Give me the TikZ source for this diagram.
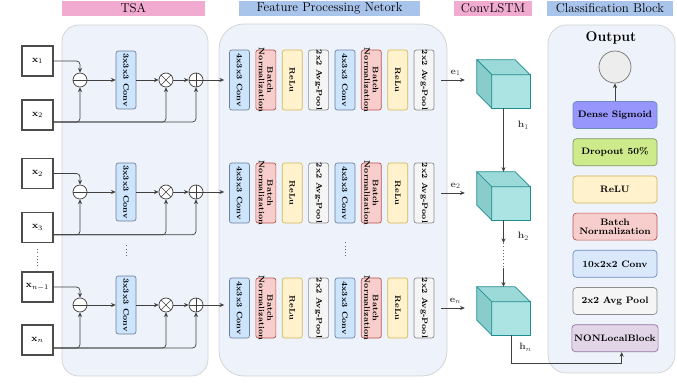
\documentclass[tikz,border=0pt]{standalone}
\usepackage{amsmath}
\usepackage{tikz}
\usetikzlibrary{positioning, arrows.meta, backgrounds, calc}
\definecolor{Cpk}{RGB}{241,171,208}
\definecolor{Cbl}{RGB}{169,196,235}
\definecolor{Cpnl}{RGB}{238,242,250}
\definecolor{Ccv}{RGB}{204,228,252}
\definecolor{Ccvd}{RGB}{110,128,156}
\definecolor{Cbn}{RGB}{248,206,204}
\definecolor{Cbnd}{RGB}{184,84,80}
\definecolor{Crl}{RGB}{255,242,204}
\definecolor{Crld}{RGB}{214,182,86}
\definecolor{Cap}{RGB}{245,245,245}
\definecolor{Capd}{RGB}{140,140,140}
\definecolor{Cds}{RGB}{150,150,252}
\definecolor{Cdsd}{RGB}{108,142,191}
\definecolor{Cdo}{RGB}{205,235,139}
\definecolor{Cdod}{RGB}{130,150,100}
\definecolor{Ccb}{RGB}{218,232,252}
\definecolor{Ccbd}{RGB}{108,142,191}
\definecolor{Cnl}{RGB}{225,213,231}
\definecolor{Cnld}{RGB}{150,115,166}
\definecolor{Cqf}{RGB}{172,228,228}
\definecolor{Cqt}{RGB}{156,218,218}
\definecolor{Cqs}{RGB}{136,204,204}
\definecolor{Cqd}{RGB}{30,140,145}
\tikzset{
  vt/.style={rotate=-90, anchor=center, align=center, inner sep=0pt,
    minimum width=0pt, minimum height=0pt, draw=none, fill=none,
    font=\fontsize{6.8}{7.2}\selectfont\bfseries},
  Vb/.style n args={3}{draw=#2, fill=#1, rounded corners=2pt,
    minimum width=0.6cm, minimum height=1.8cm, line width=0.6pt,
    inner sep=0pt, label={[vt]center:#3}},
  Hb/.style n args={2}{draw=#2, fill=#1, rounded corners=3pt,
    minimum width=2.52cm, minimum height=0.81cm, line width=0.6pt,
    align=center, inner sep=2pt, font=\footnotesize\bfseries},
  inp/.style={draw=black!70, line width=0.9pt, minimum width=0.93cm,
    minimum height=0.9cm, inner sep=0pt, font=\footnotesize},
  pnl/.style={draw=black!18, fill=Cpnl, line width=0.6pt, inner sep=0pt},
  bar/.style n args={1}{fill=#1, minimum height=0.45cm, inner sep=0pt,
    font=\fontsize{11}{13}\selectfont},
  opS/.style={circle, draw=black!75, fill=white, minimum size=0.42cm,
    inner sep=0pt, line width=0.6pt,
    path picture={\draw[black!75, line width=0.6pt]
      (path picture bounding box.west) -- (path picture bounding box.east);}},
  opM/.style={circle, draw=black!75, fill=white, minimum size=0.42cm,
    inner sep=0pt, line width=0.6pt,
    path picture={\draw[black!75, line width=0.6pt]
      (path picture bounding box.south west) -- (path picture bounding box.north east)
      (path picture bounding box.north west) -- (path picture bounding box.south east);}},
  opA/.style={circle, draw=black!75, fill=white, minimum size=0.42cm,
    inner sep=0pt, line width=0.6pt,
    path picture={\draw[black!75, line width=0.6pt]
      (path picture bounding box.west) -- (path picture bounding box.east)
      (path picture bounding box.north) -- (path picture bounding box.south);}},
  cubebb/.style={minimum width=1.59cm, minimum height=1.44cm, inner sep=0pt},
  cubeln/.style={draw=Cqd, line width=0.6pt, line join=round},
  a/.style={-{Stealth[length=4pt,width=3.5pt]}, line width=0.6pt, color=black!75},
  dts/.style={dotted, line width=0.8pt, color=black!60},
  lbl/.style={font=\footnotesize}
}

\begin{document}
\begin{tikzpicture}
\useasboundingbox (0,0) rectangle (20.31,-11.52);

% ═══════════════════════════════════════════════════════════════
%  TITLE BARS
% ═══════════════════════════════════════════════════════════════
\node[bar={Cpk}, minimum width=4.29cm] (Ttsa) at (4.0, -0.255) {TSA};
\node[bar={Cbl}, minimum width=5.43cm] (Tfpn) at (9.885, -0.255) {Feature Processing Netork};
\node[bar={Cpk}, minimum width=2.34cm] (Tlstm) at (14.79, -0.255) {ConvLSTM};
\node[bar={Cbl}, minimum width=3.78cm] (Tcls) at (18.3, -0.255) {Classification Block};

% ═══════════════════════════════════════════════════════════════
%  TSA  inputs x=1.125 | minus x=2.4  conv x=3.78  mul x=4.98  add x=5.88
% ═══════════════════════════════════════════════════════════════
\node[inp] (X1)  at (1.125, -1.83)  {$\mathbf{x}_1$};
\node[inp] (X2)  at (1.125, -3.45)  {$\mathbf{x}_2$};
\node[inp] (X2b) at (1.125, -5.205) {$\mathbf{x}_2$};
\node[inp] (X3)  at (1.125, -6.825) {$\mathbf{x}_3$};
\node[inp] (Xm)  at (1.125, -8.61)  {$\mathbf{x}_{n-1}$};
\node[inp] (Xn)  at (1.125, -10.2)  {$\mathbf{x}_n$};

\node[opS] (S1) at (2.4, -2.4) {};
\node[Vb={Ccv}{Ccvd}{3x3x3 Conv}, minimum height=1.74cm] (K1) at (3.78, -2.4) {};
\node[opM] (M1) at (4.98, -2.4) {};
\node[opA] (A1) at (5.88, -2.4) {};

\node[opS] (S2) at (2.4, -5.76) {};
\node[Vb={Ccv}{Ccvd}{3x3x3 Conv}, minimum height=1.74cm] (K2) at (3.78, -5.76) {};
\node[opM] (M2) at (4.98, -5.76) {};
\node[opA] (A2) at (5.88, -5.76) {};

\node[opS] (S3) at (2.4, -9.15) {};
\node[Vb={Ccv}{Ccvd}{3x3x3 Conv}, minimum height=1.74cm] (K3) at (3.78, -9.15) {};
\node[opM] (M3) at (4.98, -9.15) {};
\node[opA] (A3) at (5.88, -9.15) {};

\draw[a, rounded corners=3pt] (X1.east) -| (S1.north);
\draw[a, rounded corners=3pt] ([yshift=-0.21cm]X2.east) -| (S1.south);
\draw[a, rounded corners=3pt] ([yshift=-0.21cm]X2.east) -| (M1.south);
\draw[a, rounded corners=3pt] ([yshift=-0.21cm]X2.east) -| (A1.south);
\draw[a] (S1) -- (K1);
\draw[a] (K1) -- (M1);
\draw[a] (M1) -- (A1);

\draw[a, rounded corners=3pt] (X2b.east) -| (S2.north);
\draw[a, rounded corners=3pt] ([yshift=-0.22cm]X3.east) -| (S2.south);
\draw[a, rounded corners=3pt] ([yshift=-0.22cm]X3.east) -| (M2.south);
\draw[a, rounded corners=3pt] ([yshift=-0.22cm]X3.east) -| (A2.south);
\draw[a] (S2) -- (K2);
\draw[a] (K2) -- (M2);
\draw[a] (M2) -- (A2);

\draw[a, rounded corners=3pt] (Xm.east) -| (S3.north);
\draw[a, rounded corners=3pt] ([yshift=-0.24cm]Xn.east) -| (S3.south);
\draw[a, rounded corners=3pt] ([yshift=-0.24cm]Xn.east) -| (M3.south);
\draw[a, rounded corners=3pt] ([yshift=-0.24cm]Xn.east) -| (A3.south);
\draw[a] (S3) -- (K3);
\draw[a] (K3) -- (M3);
\draw[a] (M3) -- (A3);

\draw[dts, shorten <=0.18cm, shorten >=0.18cm] (X3) -- (Xm);
\draw[dts, shorten <=0.72cm, shorten >=0.54cm] (K2) -- (K3);

% ═══════════════════════════════════════════════════════════════
%  FEATURE PROCESSING  rows y=-2.4 / -5.79 / -9.24
% ═══════════════════════════════════════════════════════════════
\node[Vb={Ccv}{Ccvd}{4x3x3 Conv}] (F1c1) at (7.185, -2.4) {};
\node[Vb={Cbn}{Cbnd}{Batch\\Normalization}, right=0.17cm of F1c1] (F1b1) {};
\node[Vb={Crl}{Crld}{ReLu}, right=0.17cm of F1b1] (F1r1) {};
\node[Vb={Cap}{Capd}{2x2 Avg-Pool}, right=0.17cm of F1r1] (F1p1) {};
\node[Vb={Ccv}{Ccvd}{4x3x3 Conv}, right=0.17cm of F1p1] (F1c2) {};
\node[Vb={Cbn}{Cbnd}{Batch\\Normalization}, right=0.17cm of F1c2] (F1b2) {};
\node[Vb={Crl}{Crld}{ReLu}, right=0.17cm of F1b2] (F1r2) {};
\node[Vb={Cap}{Capd}{2x2 Avg-Pool}, right=0.17cm of F1r2] (F1p2) {};

\node[Vb={Ccv}{Ccvd}{4x3x3 Conv}] (F2c1) at (7.185, -5.79) {};
\node[Vb={Cbn}{Cbnd}{Batch\\Normalization}, right=0.17cm of F2c1] (F2b1) {};
\node[Vb={Crl}{Crld}{ReLu}, right=0.17cm of F2b1] (F2r1) {};
\node[Vb={Cap}{Capd}{2x2 Avg-Pool}, right=0.17cm of F2r1] (F2p1) {};
\node[Vb={Ccv}{Ccvd}{4x3x3 Conv}, right=0.17cm of F2p1] (F2c2) {};
\node[Vb={Cbn}{Cbnd}{Batch\\Normalization}, right=0.17cm of F2c2] (F2b2) {};
\node[Vb={Crl}{Crld}{ReLu}, right=0.17cm of F2b2] (F2r2) {};
\node[Vb={Cap}{Capd}{2x2 Avg-Pool}, right=0.17cm of F2r2] (F2p2) {};

\node[Vb={Ccv}{Ccvd}{4x3x3 Conv}] (F3c1) at (7.185, -9.24) {};
\node[Vb={Cbn}{Cbnd}{Batch\\Normalization}, right=0.17cm of F3c1] (F3b1) {};
\node[Vb={Crl}{Crld}{ReLu}, right=0.17cm of F3b1] (F3r1) {};
\node[Vb={Cap}{Capd}{2x2 Avg-Pool}, right=0.17cm of F3r1] (F3p1) {};
\node[Vb={Ccv}{Ccvd}{4x3x3 Conv}, right=0.17cm of F3p1] (F3c2) {};
\node[Vb={Cbn}{Cbnd}{Batch\\Normalization}, right=0.17cm of F3c2] (F3b2) {};
\node[Vb={Crl}{Crld}{ReLu}, right=0.17cm of F3b2] (F3r2) {};
\node[Vb={Cap}{Capd}{2x2 Avg-Pool}, right=0.17cm of F3r2] (F3p2) {};

\draw[a, shorten >=0.15cm] (A1) -- (A1 -| F1c1.west);
\draw[a, shorten >=0.15cm] (A2) -- (A2 -| F2c1.west);
\draw[a, shorten >=0.15cm] (A3) -- (A3 -| F3c1.west);

\draw[dts, shorten <=0.57cm, shorten >=0.63cm] (F2c2) -- (F3c2);

% ═══════════════════════════════════════════════════════════════
%  CONVLSTM  cubes x=15.105, depth 0.45
% ═══════════════════════════════════════════════════════════════
\node[cubebb] (C1) at (15.105, -2.52) {};
\node[cubebb] (C2) at (15.105, -5.88) {};
\node[cubebb] (Cn) at (15.105, -9.33) {};

\foreach \c in {C1,C2,Cn}{
  \draw[cubeln, fill=Cqf] ($(\c.south west)+(0.45,0)$) rectangle ($(\c.north east)+(0,-0.45)$);
  \draw[cubeln, fill=Cqt] (\c.north west) -- ($(\c.north east)+(-0.45,0)$)
    -- ($(\c.north east)+(0,-0.45)$) -- ($(\c.north west)+(0.45,-0.45)$) -- cycle;
  \draw[cubeln, fill=Cqs] (\c.north west) -- ($(\c.north west)+(0.45,-0.45)$)
    -- ($(\c.south west)+(0.45,0)$) -- ($(\c.south west)+(0,0.45)$) -- cycle;
}

\draw[a, shorten <=0.21cm, shorten >=0.36cm] (F1p2.east) -- (F1p2.east -| C1.west)
  node[lbl, midway, above=0pt] {$\mathbf{e}_1$};
\draw[a, shorten <=0.21cm, shorten >=0.36cm] (F2p2.east) -- (F2p2.east -| C2.west)
  node[lbl, midway, above=0pt] {$\mathbf{e}_2$};
\draw[a, shorten <=0.21cm, shorten >=0.36cm] (F3p2.east) -- (F3p2.east -| Cn.west)
  node[lbl, midway, above=0pt] {$\mathbf{e}_n$};

\coordinate (H2a) at (15.105, -7.29);
\coordinate (H2b) at (15.105, -8.04);
\draw[a] (C1) -- (C2) node[lbl, pos=0.27, right=0.3cm] {$\mathbf{h}_1$};
\draw[a] (C2) -- (H2a) node[lbl, pos=0.7, right=0.3cm] {$\mathbf{h}_2$};
\draw[dts] (H2a) -- (H2b);
\draw[a] (H2b) -- (Cn);

% ═══════════════════════════════════════════════════════════════
%  CLASSIFICATION BLOCK  x=18.45
% ═══════════════════════════════════════════════════════════════
\node[font=\large\bfseries] (Tout) at (18.33, -1.14) {Output};
\node[circle, draw=black!55, fill=black!7, line width=0.6pt, minimum size=0.96cm] (Ocir) at (18.45, -2.01) {};

\node[Hb={Cds}{Cdsd}] (Bds) at (18.45, -3.45) {Dense Sigmoid};
\node[Hb={Cdo}{Cdod}, below=0.285cm of Bds] (Bdo) {Dropout 50\%};
\node[Hb={Crl}{Crld}, below=0.285cm of Bdo] (Brl) {ReLU};
\node[Hb={Cbn}{Cbnd}, below=0.285cm of Brl] (Bbn) {Batch\\[-2pt]Normalization};
\node[Hb={Ccb}{Ccbd}, below=0.285cm of Bbn] (Bcv) {10x2x2 Conv};
\node[Hb={Cap}{Capd}, below=0.285cm of Bcv] (Bap) {2x2 Avg Pool};
\node[Hb={Cnl}{Cnld}, below=0.285cm of Bap] (Bnl) {NONLocalBlock};

\draw[a] (Bds) -- (Ocir);
\draw[a] ([xshift=0.225cm]Cn.south) -- ++(0,-0.84)
  node[lbl, pos=0.43, right=0.12cm] {$\mathbf{h}_n$} -| ([xshift=0.2cm]Bnl.south);

\begin{scope}[on background layer]
  \node[pnl, rounded corners=0.5cm, minimum width=4.38cm, minimum height=10.53cm] (Ptsa) at (4.05, -6.015) {};
  \node[pnl, rounded corners=0.75cm, minimum width=6.84cm, minimum height=10.56cm] (Pfpn) at (9.99, -6.0) {};
  \node[pnl, rounded corners=0.55cm, minimum width=3.81cm, minimum height=10.44cm] (Pcls) at (18.345, -5.97) {};
\end{scope}

\end{tikzpicture}
\end{document}
